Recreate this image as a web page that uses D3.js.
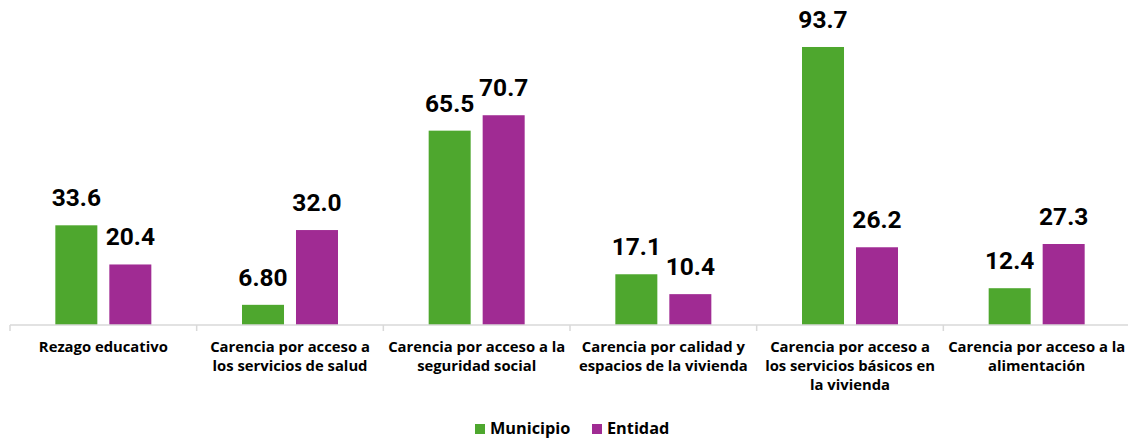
<!DOCTYPE html>
<html>
<head>
<meta charset="utf-8">
<script src="https://cdn.jsdelivr.net/npm/d3@7"></script>
<style>
  body { margin: 0; background: #fff; }
  text { font-family: Roboto, "Open Sans", sans-serif; font-weight: 700; fill: #000; }
  text.cat, text.leg { font-family: "Open Sans", sans-serif; }
</style>
</head>
<body>
<svg id="chart" width="1128" height="440"></svg>
<script>
let svg = d3.select("#chart");

// data
let categories = [
    ["Rezago educativo"],
    ["Carencia por acceso a", "los servicios de salud"],
    ["Carencia por acceso a la", "seguridad social"],
    ["Carencia por calidad y", "espacios de la vivienda"],
    ["Carencia por acceso a", "los servicios básicos en", "la vivienda"],
    ["Carencia por acceso a la", "alimentación"]
];
let municipio = [33.6, 6.80, 65.5, 17.1, 93.7, 12.4];
let entidad = [20.4, 32.0, 70.7, 10.4, 26.2, 27.3];
let labelsMunicipio = ["33.6", "6.80", "65.5", "17.1", "93.7", "12.4"];
let labelsEntidad = ["20.4", "32.0", "70.7", "10.4", "26.2", "27.3"];
let seriesNames = ["Municipio", "Entidad"];
let colors = ["#4ea72e", "#a02b93"];

let left = 10, right = 1130, baseY = 325;

let x = d3.scaleBand()
    .domain(d3.range(categories.length))
    .range([left, right]);

let xs = d3.scaleBand()
    .domain([0, 1])
    .range([x.bandwidth() / 2 - 48, x.bandwidth() / 2 + 48])
    .paddingInner(0.222);

let y = d3.scaleLinear()
    .domain([0, 100])
    .range([baseY, baseY - 296.7]);

let rows = categories.map((c, i) => ({ i: i, vals: [municipio[i], entidad[i]], labs: [labelsMunicipio[i], labelsEntidad[i]] }));

let groups = svg.append("g")
    .selectAll("g")
    .data(rows)
    .enter()
    .append("g")
    .attr("transform", d => "translate(" + x(d.i) + ",0)");

groups.selectAll("rect")
    .data(d => d.vals.map((v, k) => ({ v: v, k: k })))
    .enter()
    .append("rect")
    .attr("x", d => xs(d.k))
    .attr("width", xs.bandwidth())
    .attr("y", d => y(d.v))
    .attr("height", d => y(0) - y(d.v))
    .attr("fill", d => colors[d.k]);

groups.selectAll("text.val")
    .data(d => d.vals.map((v, k) => ({ v: v, k: k, lab: d.labs[k] })))
    .enter()
    .append("text")
    .attr("class", "val")
    .attr("x", d => xs(d.k) + xs.bandwidth() / 2)
    .attr("y", d => y(d.v) - 19)
    .attr("text-anchor", "middle")
    .attr("font-size", 24.5)
    .text(d => d.lab);

//? axis
let axis = svg.append("g")
    .attr("transform", "translate(0," + baseY + ")");
axis.append("line")
    .attr("x1", left).attr("x2", right)
    .attr("stroke", "#d9d9d9").attr("stroke-width", 1.5);
axis.selectAll("line.tick")
    .data(d3.range(categories.length + 1))
    .enter()
    .append("line")
    .attr("class", "tick")
    .attr("x1", d => left + d * x.step()).attr("x2", d => left + d * x.step())
    .attr("y1", 0).attr("y2", 6)
    .attr("stroke", "#d9d9d9").attr("stroke-width", 1.5);

let catText = axis.selectAll("text.cat")
    .data(categories)
    .enter()
    .append("text")
    .attr("class", "cat")
    .attr("text-anchor", "middle")
    .attr("font-size", 14.8)
    .attr("transform", (d, i) => "translate(" + (x(i) + x.bandwidth() / 2) + ",26.5)");
catText.selectAll("tspan")
    .data(d => d)
    .enter()
    .append("tspan")
    .attr("x", 0)
    .attr("dy", (d, j) => j === 0 ? 0 : 19)
    .text(d => d);

//? legend
let legend = svg.append("g").attr("transform", "translate(475,434)");
let legendX = [0, 117];
seriesNames.forEach((name, k) => {
    legend.append("rect")
        .attr("x", legendX[k]).attr("y", -10)
        .attr("width", 10).attr("height", 10)
        .attr("fill", colors[k]);
    legend.append("text")
        .attr("class", "leg")
        .attr("x", legendX[k] + 15).attr("y", 0)
        .attr("font-size", 16.3)
        .text(name);
});
</script>
</body>
</html>
